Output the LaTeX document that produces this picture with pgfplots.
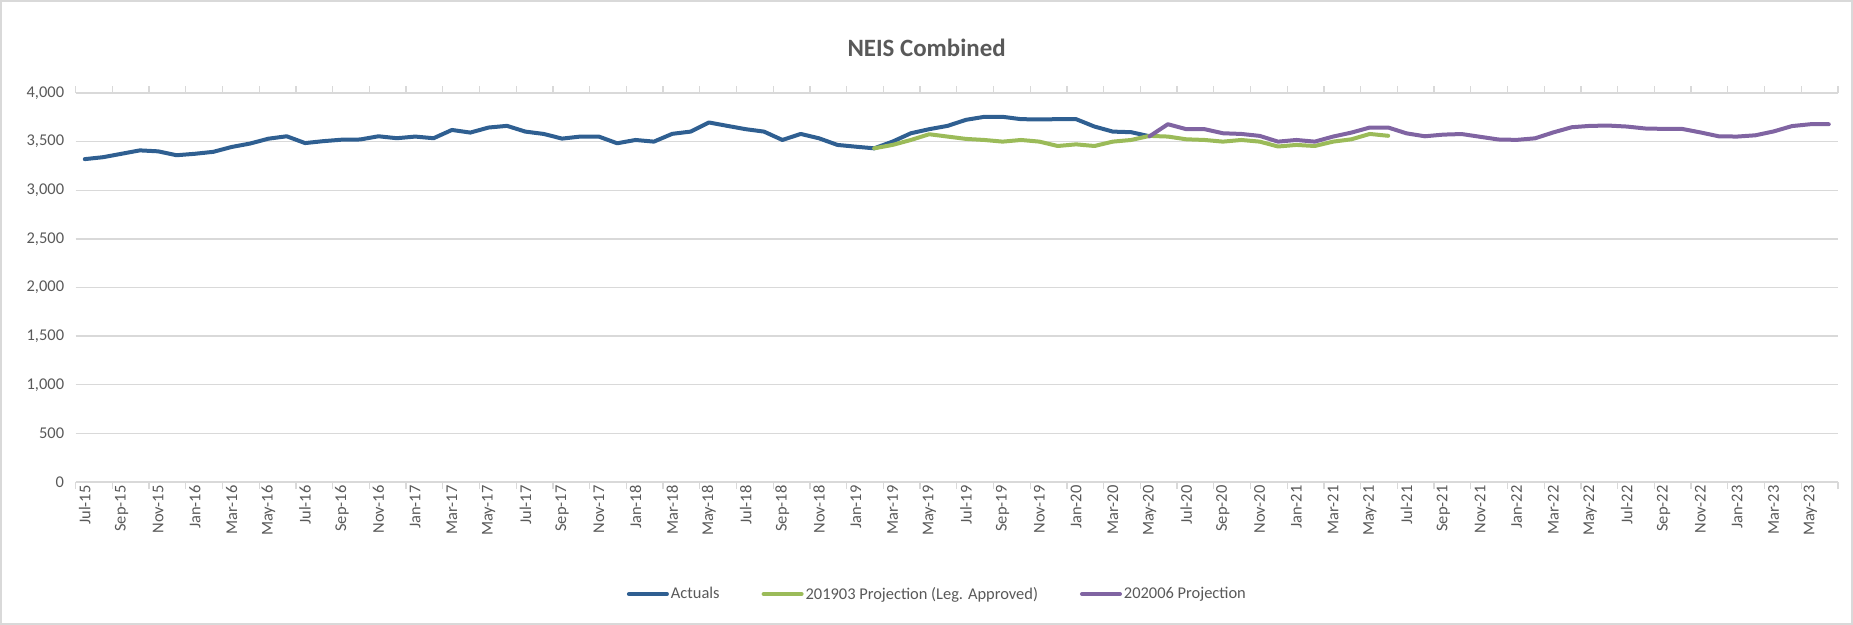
\documentclass[border=0pt]{standalone}
\usepackage{pgfplots}
\pgfplotsset{compat=1.18}
\usepackage{pgfplotstable}
\usepackage{fontspec}
\setmainfont{Carlito}

\definecolor{actual}{HTML}{2F5F91}
\definecolor{projA}{HTML}{9BBB59}
\definecolor{projB}{HTML}{8064A2}
\definecolor{txtgray}{HTML}{595959}
\definecolor{gridgray}{HTML}{D9D9D9}

% month index: 0 = Jul-15 ... 95 = Jun-23
\pgfplotstableread{
m v
0 3320
1 3340
2 3375
3 3410
4 3400
5 3360
6 3375
7 3395
8 3445
9 3480
10 3530
11 3555
12 3485
13 3505
14 3520
15 3522
16 3555
17 3535
18 3552
19 3535
20 3620
21 3593
22 3645
23 3662
24 3603
25 3579
26 3531
27 3552
28 3552
29 3483
30 3517
31 3500
32 3580
33 3603
34 3697
35 3662
36 3628
37 3603
38 3517
39 3579
40 3534
41 3466
42 3448
43 3431
44 3500
45 3586
46 3628
47 3662
48 3724
49 3755
50 3755
51 3731
52 3728
53 3731
54 3731
55 3655
56 3603
57 3597
58 3555
}\actuals

\pgfplotstableread{
m v
43 3431
44 3466
45 3517
46 3576
47 3552
48 3528
49 3517
50 3500
51 3517
52 3500
53 3455
54 3472
55 3455
56 3500
57 3517
58 3559
59 3552
60 3524
61 3517
62 3500
63 3517
64 3500
65 3450
66 3466
67 3455
68 3500
69 3524
70 3579
71 3560
}\projmar

\pgfplotstableread{
m v
58 3555
59 3679
60 3628
61 3628
62 3586
63 3579
64 3559
65 3500
66 3517
67 3500
68 3552
69 3593
70 3645
71 3645
72 3585
73 3555
74 3572
75 3578
76 3550
77 3522
78 3518
79 3534
80 3595
81 3648
82 3662
83 3665
84 3655
85 3635
86 3631
87 3631
88 3595
89 3555
90 3552
91 3565
92 3605
93 3660
94 3679
95 3679
}\projjun

\begin{document}
\begin{tikzpicture}
\begin{axis}[
    scale only axis,
    width=1762.4bp, height=389bp,
    xmin=-0.5, xmax=95.5,
    ymin=0, ymax=4000,
    xtick={0,2,...,94},
    xticklabels={Jul-15,Sep-15,Nov-15,Jan-16,Mar-16,May-16,Jul-16,Sep-16,Nov-16,Jan-17,Mar-17,May-17,Jul-17,Sep-17,Nov-17,Jan-18,Mar-18,May-18,Jul-18,Sep-18,Nov-18,Jan-19,Mar-19,May-19,Jul-19,Sep-19,Nov-19,Jan-20,Mar-20,May-20,Jul-20,Sep-20,Nov-20,Jan-21,Mar-21,May-21,Jul-21,Sep-21,Nov-21,Jan-22,Mar-22,May-22,Jul-22,Sep-22,Nov-22,Jan-23,Mar-23,May-23},
    minor xtick={-0.5,1.5,...,95.5},
    ytick={0,500,...,4000},
    ymajorgrids,
    grid style={gridgray, line width=1.3bp},
    axis line style={draw=none},
    tick align=outside,
    major tick length=0pt,
    minor tick length=7bp,
    every minor tick/.append style={gridgray, line width=1.3bp},
    /pgf/number format/assume math mode=true,
    /pgf/number format/1000 sep={,},
    ticklabel style={font=\fontsize{16.5}{18}\selectfont, text=txtgray},
    xticklabel style={rotate=90, anchor=east},
    yticklabel style={xshift=-8bp},
    legend style={at={(0.489,-0.288)}, anchor=center, draw=none,
        font=\fontsize{16.5}{18}\selectfont, text=txtgray,
        /tikz/every even column/.append style={column sep=40bp}},
    legend columns=-1,
    legend image code/.code={\draw[#1] (0bp,0bp) -- (38bp,0bp);},
    every axis plot/.append style={line width=4bp, line join=round, line cap=round},
]
\addplot[actual] table[x=m, y=v] {\actuals};
\addplot[projA] table[x=m, y=v] {\projmar};
\addplot[projB] table[x=m, y=v] {\projjun};
\legend{Actuals, 201903 Projection (Leg. Approved), 202006 Projection}
\end{axis}
\node[font=\bfseries\fontsize{25}{28}\selectfont, text=txtgray] at (851bp,434bp) {NEIS Combined};
\draw[gridgray, line width=1.5bp] (-74.8bp,-142.2bp) rectangle (1776.6bp,481.2bp);
\pgfresetboundingbox
\useasboundingbox (-75.6bp,-143bp) rectangle (1777.4bp,482bp);
\end{tikzpicture}
\end{document}
